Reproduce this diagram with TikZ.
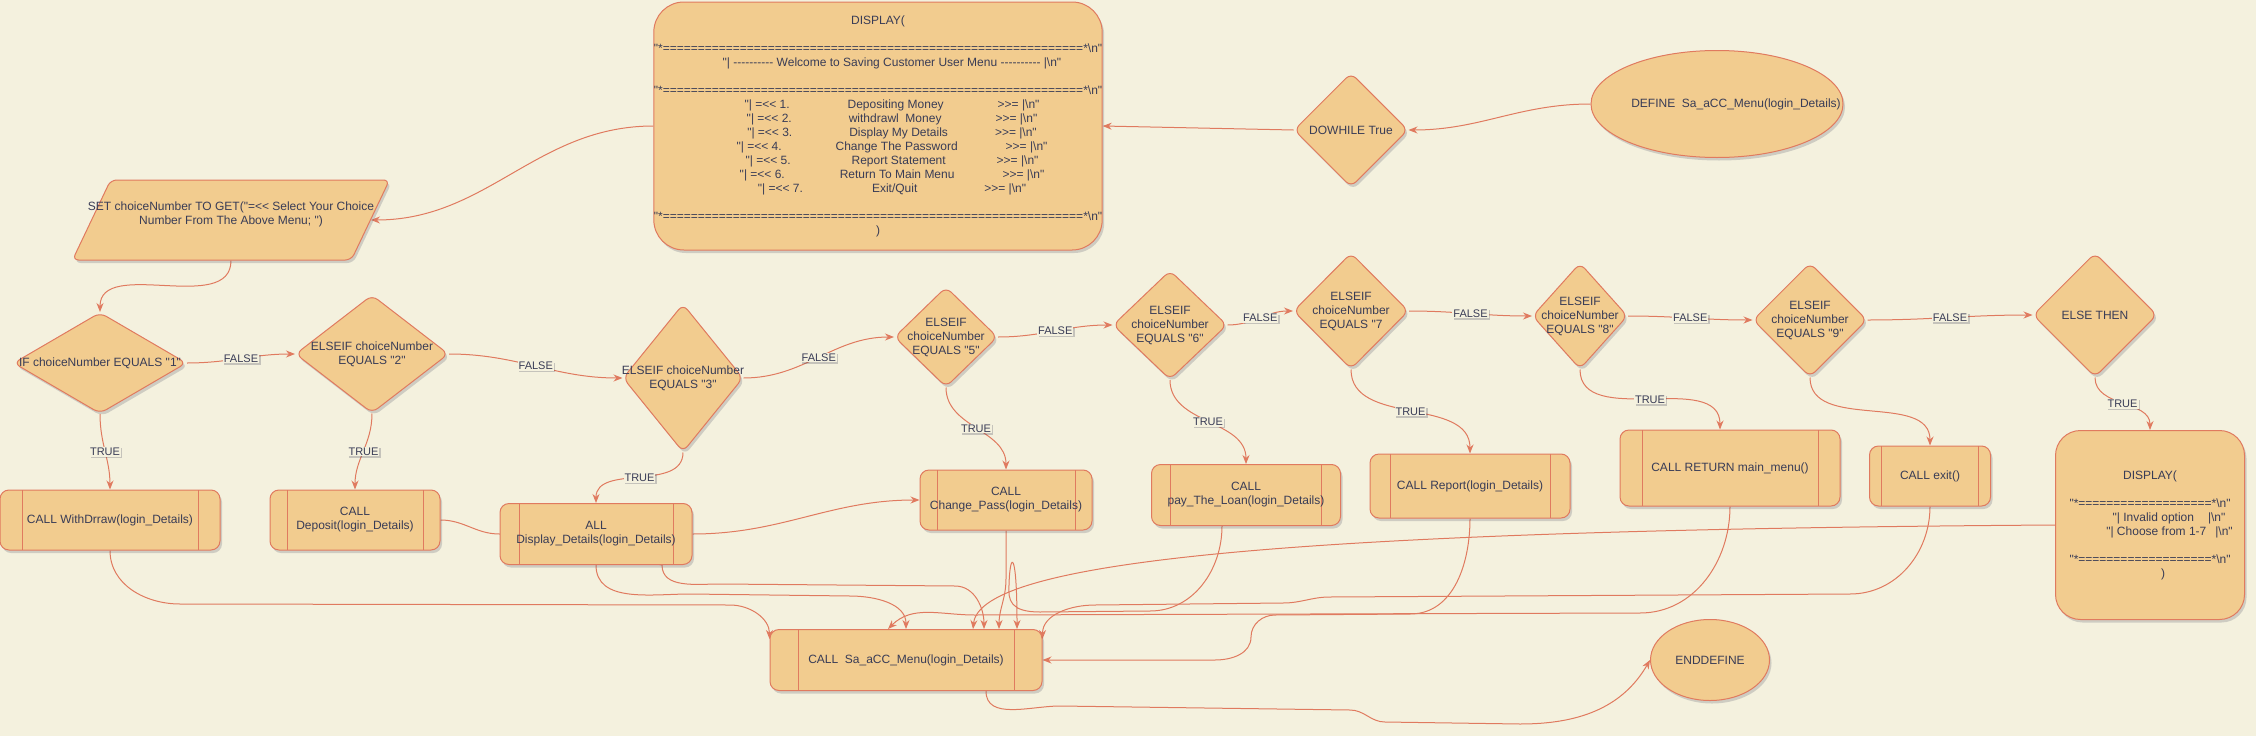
\documentclass[tikz,border=0pt]{standalone}
\usepackage{fontspec}
\newfontfamily\drawfont{Liberation Sans}
\definecolor{MNFill}{HTML}{F2CC8F}
\definecolor{MNLine}{HTML}{E07A5F}
\definecolor{MNText}{HTML}{393C56}
\definecolor{MNBack}{HTML}{F4F1DE}
\usetikzlibrary{shapes.geometric,arrows.meta,backgrounds,shadows}

\begin{document}
\begin{tikzpicture}[x=1pt, y=-1pt,
    every node/.style={font=\drawfont\fontsize{12pt}{14pt}\selectfont, text=MNText, align=center},
    mnbase/.style={draw=MNLine, fill=MNFill, line width=1pt, inner sep=0pt,
      drop shadow={shadow xshift=2pt, shadow yshift=-3pt, opacity=0.2, fill=MNText}},
    choice/.style={mnbase, diamond, rounded corners=7pt},
    oval/.style={mnbase, ellipse},
    screen/.style={mnbase, rectangle, rounded corners=#1},
    callbox/.style={mnbase, rectangle, rounded corners=9pt,
      path picture={\draw[MNLine, line width=1pt]
        ([xshift=#1]path picture bounding box.north west) -- ([xshift=#1]path picture bounding box.south west)
        ([xshift=-#1]path picture bounding box.north east) -- ([xshift=-#1]path picture bounding box.south east);}},
    flow/.style={draw=MNLine, line width=1pt, -{Stealth[length=9pt, width=7pt]}},
    lbl/.style={font=\drawfont\fontsize{11pt}{13pt}\selectfont, fill=MNBack, inner sep=1pt,
      drop shadow={shadow xshift=1.5pt, shadow yshift=-1.5pt, opacity=0.25, fill=MNText}}]
    \useasboundingbox (0,0) rectangle (2256,736);

    \node[oval, minimum width=252pt, minimum height=107pt,
      label={[xshift=19pt]center:DEFINE\ \ Sa\_aCC\_Menu(login\_Details)}] (define) at (1717,104) {};
    \node[choice, minimum width=114pt, minimum height=114pt, label={center:DOWHILE True}] (dowhile) at (1351,130) {};
    \node[screen=30pt, minimum width=445pt, minimum height=248pt] (disp) at (878,126)
      {DISPLAY(\\[14pt]
      "*============================================================*\textbackslash n"\\
      \hspace*{28pt}"| ---------- Welcome to Saving Customer User Menu ---------- |\textbackslash n"\\[14pt]
      "*============================================================*\textbackslash n"\\
      \hspace*{28pt}"| =<< 1.\hspace{58pt}Depositing Money\hspace{54pt}>>= |\textbackslash n"\\
      \hspace*{28pt}"| =<< 2.\hspace{57pt}withdrawl\ \ Money\hspace{54pt}>>= |\textbackslash n"\\
      \hspace*{28pt}"| =<< 3.\hspace{57pt}Display My Details\hspace{47pt}>>= |\textbackslash n"\\
      \hspace*{28pt}"| =<< 4.\hspace{54pt}Change The Password\hspace{48pt}>>= |\textbackslash n"\\
      \hspace*{28pt}"| =<< 5.\hspace{61pt}Report Statement\hspace{51pt}>>= |\textbackslash n"\\
      \hspace*{28pt}"| =<< 6.\hspace{55pt}Return To Main Menu\hspace{48pt}>>= |\textbackslash n"\\
      \hspace*{28pt}"| =<< 7.\hspace{69pt}Exit/Quit\hspace{67pt}>>= |\textbackslash n"\\[14pt]
      "*============================================================*\textbackslash n"\\
      )};
    \node[mnbase, trapezium, trapezium left angle=81, trapezium right angle=99, trapezium stretches=true,
      rounded corners=6pt, inner sep=2pt, minimum width=317pt, minimum height=80pt,
      label={[yshift=6pt]center:SET choiceNumber TO GET("=<< Select Your Choice\\Number From The Above Menu; ")}] (setc) at (231,220) {};

    \node[choice, minimum width=173pt, minimum height=101pt, label={center:IF choiceNumber EQUALS "1"}] (if1) at (100,363) {};
    \node[choice, minimum width=153pt, minimum height=118pt, label={center:ELSEIF choiceNumber\\EQUALS "2"}] (elif2) at (372,354) {};
    \node[choice, minimum width=120pt, minimum height=148pt, label={center:ELSEIF choiceNumber\\EQUALS "3"}] (elif3) at (683,378) {};
    \node[choice, minimum width=103pt, minimum height=100pt, label={center:ELSEIF\\choiceNumber\\EQUALS "5"}] (elif5) at (946,337) {};
    \node[choice, minimum width=114pt, minimum height=109pt, label={center:ELSEIF\\choiceNumber\\EQUALS "6"}] (elif6) at (1170,325) {};
    \node[choice, minimum width=115pt, minimum height=116pt, label={center:ELSEIF\\choiceNumber\\EQUALS "7}] (elif7) at (1351,311) {};
    \node[choice, minimum width=95pt, minimum height=106pt, label={center:ELSEIF\\choiceNumber\\EQUALS "8"}] (elif8) at (1580,316) {};
    \node[choice, minimum width=114pt, minimum height=114pt, label={center:ELSEIF\\choiceNumber\\EQUALS "9"}] (elif9) at (1810,320) {};
    \node[choice, minimum width=124pt, minimum height=124pt, label={center:ELSE THEN}] (elsethen) at (2095,315) {};

    \node[callbox=22pt, minimum width=220pt, minimum height=60pt] (cwd) at (110,520) {CALL WithDrraw(login\_Details)};
    \node[callbox=17pt, minimum width=170pt, minimum height=60pt] (cdep) at (355,520) {CALL\\Deposit(login\_Details)};
    \node[callbox=19pt, minimum width=192pt, minimum height=61pt] (cdisp) at (596,534) {ALL\\Display\_Details(login\_Details)};
    \node[callbox=17pt, minimum width=172pt, minimum height=60pt] (cpass) at (1006,500) {CALL\\Change\_Pass(login\_Details)};
    \node[callbox=19pt, minimum width=189pt, minimum height=61pt] (cloan) at (1246,495) {CALL\\pay\_The\_Loan(login\_Details)};
    \node[callbox=20pt, minimum width=200pt, minimum height=64pt] (crep) at (1470,486) {CALL Report(login\_Details)};
    \node[callbox=22pt, minimum width=220pt, minimum height=76pt] (cret) at (1730,468) {CALL RETURN main\_menu()};
    \node[callbox=12pt, minimum width=121pt, minimum height=60pt] (cexit) at (1930,476) {CALL exit()};
    \node[screen=25pt, minimum width=189pt, minimum height=189pt] (disp2) at (2150,525)
      {DISPLAY(\\[14pt]
      "*===================*\textbackslash n"\\
      \hspace*{38pt}"| Invalid option\hspace{14pt}|\textbackslash n"\\
      \hspace*{39pt}"| Choose from 1-7\hspace{9pt}|\textbackslash n"\\[14pt]
      "*===================*\textbackslash n"\\
      \hspace*{26pt})};
    \node[callbox=28pt, minimum width=272pt, minimum height=61pt] (cmenu) at (906,660) {CALL\ \ Sa\_aCC\_Menu(login\_Details)};
    \node[oval, minimum width=119pt, minimum height=81pt] (enddef) at (1710,660) {ENDDEFINE};

    \begin{scope}[on background layer]
    \fill[MNBack] (0,0) rectangle (2256,736);
    \draw[flow] (define.west) to[out=180,in=0] (dowhile.east);
    \draw[flow] (dowhile.west) -- (disp.east);
    \draw[flow] (disp.west) to[out=180,in=0] (setc.east);
    \draw[flow] (setc.south) to[out=270,in=90] (if1.north);

    \draw[flow] (if1.east) to[out=0,in=180] node[lbl] (f1) {FALSE} (elif2.west);
    \draw[flow] (elif2.east) to[out=0,in=180] node[lbl] (f2) {FALSE} (elif3.west);
    \draw[flow] (elif3.east) to[out=0,in=180] node[lbl] (f3) {FALSE} (elif5.west);
    \draw[flow] (elif5.east) to[out=0,in=180] node[lbl] (f5) {FALSE} (elif6.west);
    \draw[flow] (elif6.east) to[out=0,in=180] node[lbl] (f6) {FALSE} (elif7.west);
    \draw[flow] (elif7.east) to[out=0,in=180] node[lbl] (f7) {FALSE} (elif8.west);
    \draw[flow] (elif8.east) to[out=0,in=180] node[lbl] (f8) {FALSE} (elif9.west);
    \draw[flow] (elif9.east) to[out=0,in=180] node[lbl] (f9) {FALSE} (elsethen.west);

    \draw[flow] (if1.south) to[out=270,in=90] node[lbl] (t1) {TRUE} (cwd.north);
    \draw[flow] (elif2.south) to[out=270,in=90] node[lbl] (t2) {TRUE} (cdep.north);
    \draw[flow] (elif3.south) to[out=270,in=90] node[lbl] (t3) {TRUE} (cdisp.north);
    \draw[flow] (elif5.south) to[out=270,in=90] node[lbl] (t5) {TRUE} (cpass.north);
    \draw[flow] (elif6.south) to[out=270,in=90] node[lbl] (t6) {TRUE} (cloan.north);
    \draw[flow] (elif7.south) to[out=270,in=90] node[lbl] (t7) {TRUE} (crep.north);
    \draw[flow] (elif8.south) to[out=270,in=90] node[lbl] (t8) {TRUE} ([xshift=-10pt]cret.north);
    \draw[flow] (elif9.south) to[out=270,in=90] (cexit.north);
    \draw[flow] (elsethen.south) to[out=270,in=90] node[lbl] (t9) {TRUE} (disp2.north);

    \draw[flow] (cwd.south) to[out=270,in=180] (180,604) -- (730,605) to[out=0,in=90] ([yshift=-10pt]cmenu.north west);
    \draw[flow] (cdep.east) to[out=0,in=180] (cdisp.west) -- ([xshift=66pt]cdisp.south)
      to[out=270,in=180] (720,584) -- (955,586) to[out=0,in=90] ([xshift=78pt]cmenu.north);
    \draw[flow] (cdisp.south) to[out=270,in=180] (690,594) -- (850,596) to[out=0,in=90] (cmenu.north);
    \draw[flow] (cdisp.east) to[out=0,in=180] (cpass.west);
    \draw[flow] (cpass.south) -- ++(0,48) to[out=270,in=90] ([xshift=93pt]cmenu.north);
    \draw[flow] ([xshift=-24pt]cloan.south) to[out=270,in=0] (1150,611) -- (1040,612)
      .. controls (1010,612) and (1008,600) .. (1009,585)
      .. controls (1010,550) and (1017,550) .. ([xshift=111pt]cmenu.north);
    \draw[flow] (crep.south) to[out=270,in=0] (1410,614) -- (1275,615) to[out=180,in=90] (1251,637)
      to[out=270,in=0] (1215,660) -- (cmenu.east);
    \draw[flow] (cret.south) to[out=270,in=0] (1640,613) -- (975,615) to[out=180,in=45] ([xshift=-18pt]cmenu.north);
    \draw[flow] (cexit.south) to[out=270,in=0] (1850,594) -- (1330,597) to[out=180,in=0] (1283,603)
      -- (1095,605) to[out=180,in=90] ([yshift=-10pt]cmenu.north east);
    \draw[flow] (disp2.west) .. controls (1300,530) and (980,560) .. ([xshift=67pt]cmenu.north);
    \draw[flow] ([xshift=80pt]cmenu.south) to[out=270,in=180] (1060,706) -- (1350,710) to[out=0,in=180] (1385,722)
      -- (1520,724) to[out=0,in=240] (enddef.west);
    \end{scope}
\end{tikzpicture}
\end{document}
